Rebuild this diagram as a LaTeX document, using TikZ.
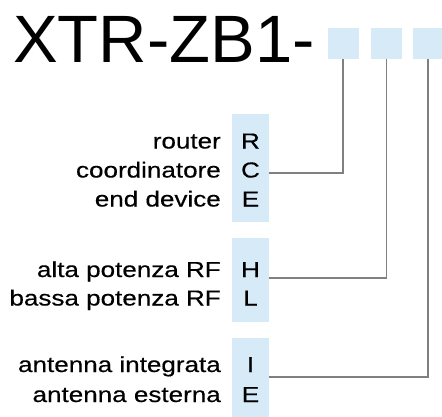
\documentclass[tikz,border=0pt]{standalone}
\usepackage{fontspec}
\setmainfont{Liberation Sans}
\newfontfamily\widefont[FakeStretch=1.2,FakeBold=0.4]{Liberation Sans}
\definecolor{codeblue}{RGB}{214,234,248}
\definecolor{leadgray}{RGB}{128,128,128}
\begin{document}
\begin{tikzpicture}[x=1pt,y=-1pt,
  title/.style={anchor=base west,inner sep=0pt,font=\fontsize{67}{67}\selectfont},
  slot/.style={fill=codeblue,draw=none,minimum width=31pt,minimum height=31pt,inner sep=0pt},
  codebox/.style={fill=codeblue,draw=none,minimum width=37pt,inner sep=0pt},
  desc/.style={anchor=base east,inner sep=0pt,font=\widefont\fontsize{21.7}{21.7}\selectfont},
  code/.style={anchor=base,inner sep=0pt,font=\widefont\fontsize{21.7}{21.7}\selectfont},
  lead/.style={draw=leadgray,line width=1.5pt}]
\useasboundingbox (0,0) rectangle (442,416);

% part number and its three option slots
\node[title] (pn) at (13,62) {XTR-ZB1-};
\node[slot] (s1) at (343,43.5) {};
\node[slot] (s2) at (386.5,43.5) {};
\node[slot] (s3) at (428,43.5) {};

% option groups
\node[codebox,minimum height=108pt] (g1) at (250.5,168) {};
\node[codebox,minimum height=84pt] (g2) at (250.5,280) {};
\node[codebox,minimum height=84pt] (g3) at (250.5,380) {};

% device role
\node[desc] (d1) at (221,148.5) {router};
\node[desc] (d2) at (221,177.5) {coordinatore};
\node[desc] (d3) at (221,206.5) {end device};
\node[code] (c1) at (250.5,148.5) {R};
\node[code] (c2) at (250.5,177.5) {C};
\node[code] (c3) at (250.5,206.5) {E};

% RF power
\node[desc] (d4) at (221,277) {alta potenza RF};
\node[desc] (d5) at (221,305.5) {bassa potenza RF};
\node[code] (c4) at (250.5,277) {H};
\node[code] (c5) at (250.5,305.5) {L};

% antenna
\node[desc] (d6) at (221,372) {antenna integrata};
\node[desc] (d7) at (221,402) {antenna esterna};
\node[code] (c6) at (250.5,372) {I};
\node[code] (c7) at (250.5,402) {E};

% leader lines from slots to groups
\coordinate (j1) at (269,173);
\coordinate (j2) at (269,278);
\coordinate (j3) at (269,377);
\draw[lead] (s1.south) |- (j1);
\draw[lead] (s2.south) |- (j2);
\draw[lead] (s3.south) |- (j3);
\end{tikzpicture}
\end{document}
